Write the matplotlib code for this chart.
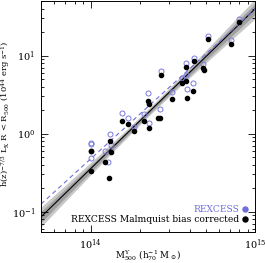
import numpy as np
import matplotlib
matplotlib.use("Agg")
import matplotlib.pyplot as plt
from matplotlib.lines import Line2D
from matplotlib.ticker import LogLocator, NullFormatter

plt.rcParams['font.family'] = 'DejaVu Serif'
plt.rcParams['mathtext.fontset'] = 'dejavuserif'

# REXCESS points (M in h70^-1 Msun, L in 1e44 erg/s)
m_rex = [8.0e14, 5.16e14, 7.14e14, 4.25e14, 3.80e14, 4.82e14, 2.67e14, 4.19e14,
         3.80e14, 3.59e14, 3.85e14, 3.12e14, 2.23e14, 2.64e14, 2.10e14, 2.26e14,
         1.55e14, 1.68e14, 1.85e14, 1.32e14, 1.00e14, 1.01e14, 1.22e14, 1.34e14,
         1.01e14, 1.27e14]
l_rex = [29.6, 18.0, 16.0, 9.4, 8.1, 7.9, 6.4, 4.4,
         5.6, 5.2, 3.7, 3.4, 3.3, 2.1, 1.8, 1.36,
         1.82, 1.6, 1.21, 0.99, 0.76, 0.73, 0.60, 0.71,
         0.49, 0.43]

# Malmquist bias corrected points
m_cor = [8.0e14, 5.16e14, 7.14e14, 4.25e14, 3.80e14, 4.82e14, 4.89e14, 2.67e14,
         4.19e14, 3.80e14, 3.59e14, 3.85e14, 3.12e14, 2.23e14, 2.26e14, 2.64e14,
         2.56e14, 2.10e14, 2.26e14, 1.55e14, 1.68e14, 1.85e14, 1.32e14, 1.00e14,
         1.01e14, 1.34e14, 1.01e14, 1.23e14, 1.29e14]
l_cor = [27.1, 16.5, 14.2, 8.6, 7.2, 7.0, 6.6, 5.6,
         3.5, 4.7, 4.4, 2.9, 2.8, 2.6, 2.4, 1.6,
         1.6, 1.44, 1.17, 1.44, 1.32, 1.08, 0.80, 0.60,
         0.60, 0.58, 0.33, 0.43, 0.27]

# fitted relations L = norm * (M / 3e14)^slope
norm_cor, slope_cor = 3.37, 2.05
norm_rex, slope_rex = 3.90, 1.92

fig = plt.figure(figsize=(2.66, 2.63), dpi=100)
ax = fig.add_axes([0.154, 0.118, 0.805, 0.878])

mm = np.logspace(np.log10(5e13), np.log10(1e15), 200)
fit = norm_cor * (mm / 3e14) ** slope_cor
dx = np.log10(mm) - 14.35
wid = np.sqrt(0.05 ** 2 + (0.18 * dx) ** 2)
ax.fill_between(mm, fit / 10 ** wid, fit * 10 ** wid, color='#c8c8c8', lw=0)
ax.fill_between(mm, fit / 10 ** (0.55 * wid), fit * 10 ** (0.55 * wid), color='#a0a0a0', lw=0)
ax.plot(mm, fit, color='black', lw=0.8)
ax.plot(mm, norm_rex * (mm / 3e14) ** slope_rex, color='#6f6fd8', lw=0.8, ls=(0, (4, 3)))

ax.plot(m_rex, l_rex, 'o', mfc='none', mec='#7b7bdf', mew=0.7, ms=3.6)
ax.plot(m_cor, l_cor, 'o', color='black', ms=3.0)

ax.set_xscale('log')
ax.set_yscale('log')
ax.set_xlim(5e13, 1e15)
ax.set_ylim(0.055, 50)

for axis in (ax.xaxis, ax.yaxis):
    axis.set_minor_locator(LogLocator(base=10, subs=np.arange(2, 10)))
    axis.set_minor_formatter(NullFormatter())
ax.tick_params(which='both', direction='in', top=True, right=True, labelsize=7, width=0.6)
ax.tick_params(which='major', length=5, pad=4)
ax.tick_params(which='minor', length=2.5)
for s in ax.spines.values():
    s.set_linewidth(0.7)

ax.set_xlabel(r'M$^{\rm Y}_{500}$ (h$_{70}^{-1}$ M$_\odot$)', fontsize=6.3)
ax.set_ylabel(r'h(z)$^{-7/3}$ L$_{\rm X}$ R < R$_{500}$ (10$^{44}$ erg s$^{-1}$)',
              fontsize=6.1)
ax.xaxis.set_label_coords(0.5, -0.07)
ax.yaxis.set_label_coords(-0.135, 0.51)

handles = [Line2D([], [], ls='none', marker='o', color='#6f6fd8', ms=3.6),
           Line2D([], [], ls='none', marker='o', color='black', ms=3.6)]
leg = ax.legend(handles, ['REXCESS', 'REXCESS Malmquist bias corrected'],
                loc='lower right', frameon=False, markerfirst=False, fontsize=6.6,
                handlelength=0.5, handletextpad=0.3, labelspacing=0.1,
                borderaxespad=0.5)
leg.get_texts()[0].set_color('#6f6fd8')
for t in leg.get_texts():
    t.set_ha('right')

fig.savefig('out.png', dpi=100)
